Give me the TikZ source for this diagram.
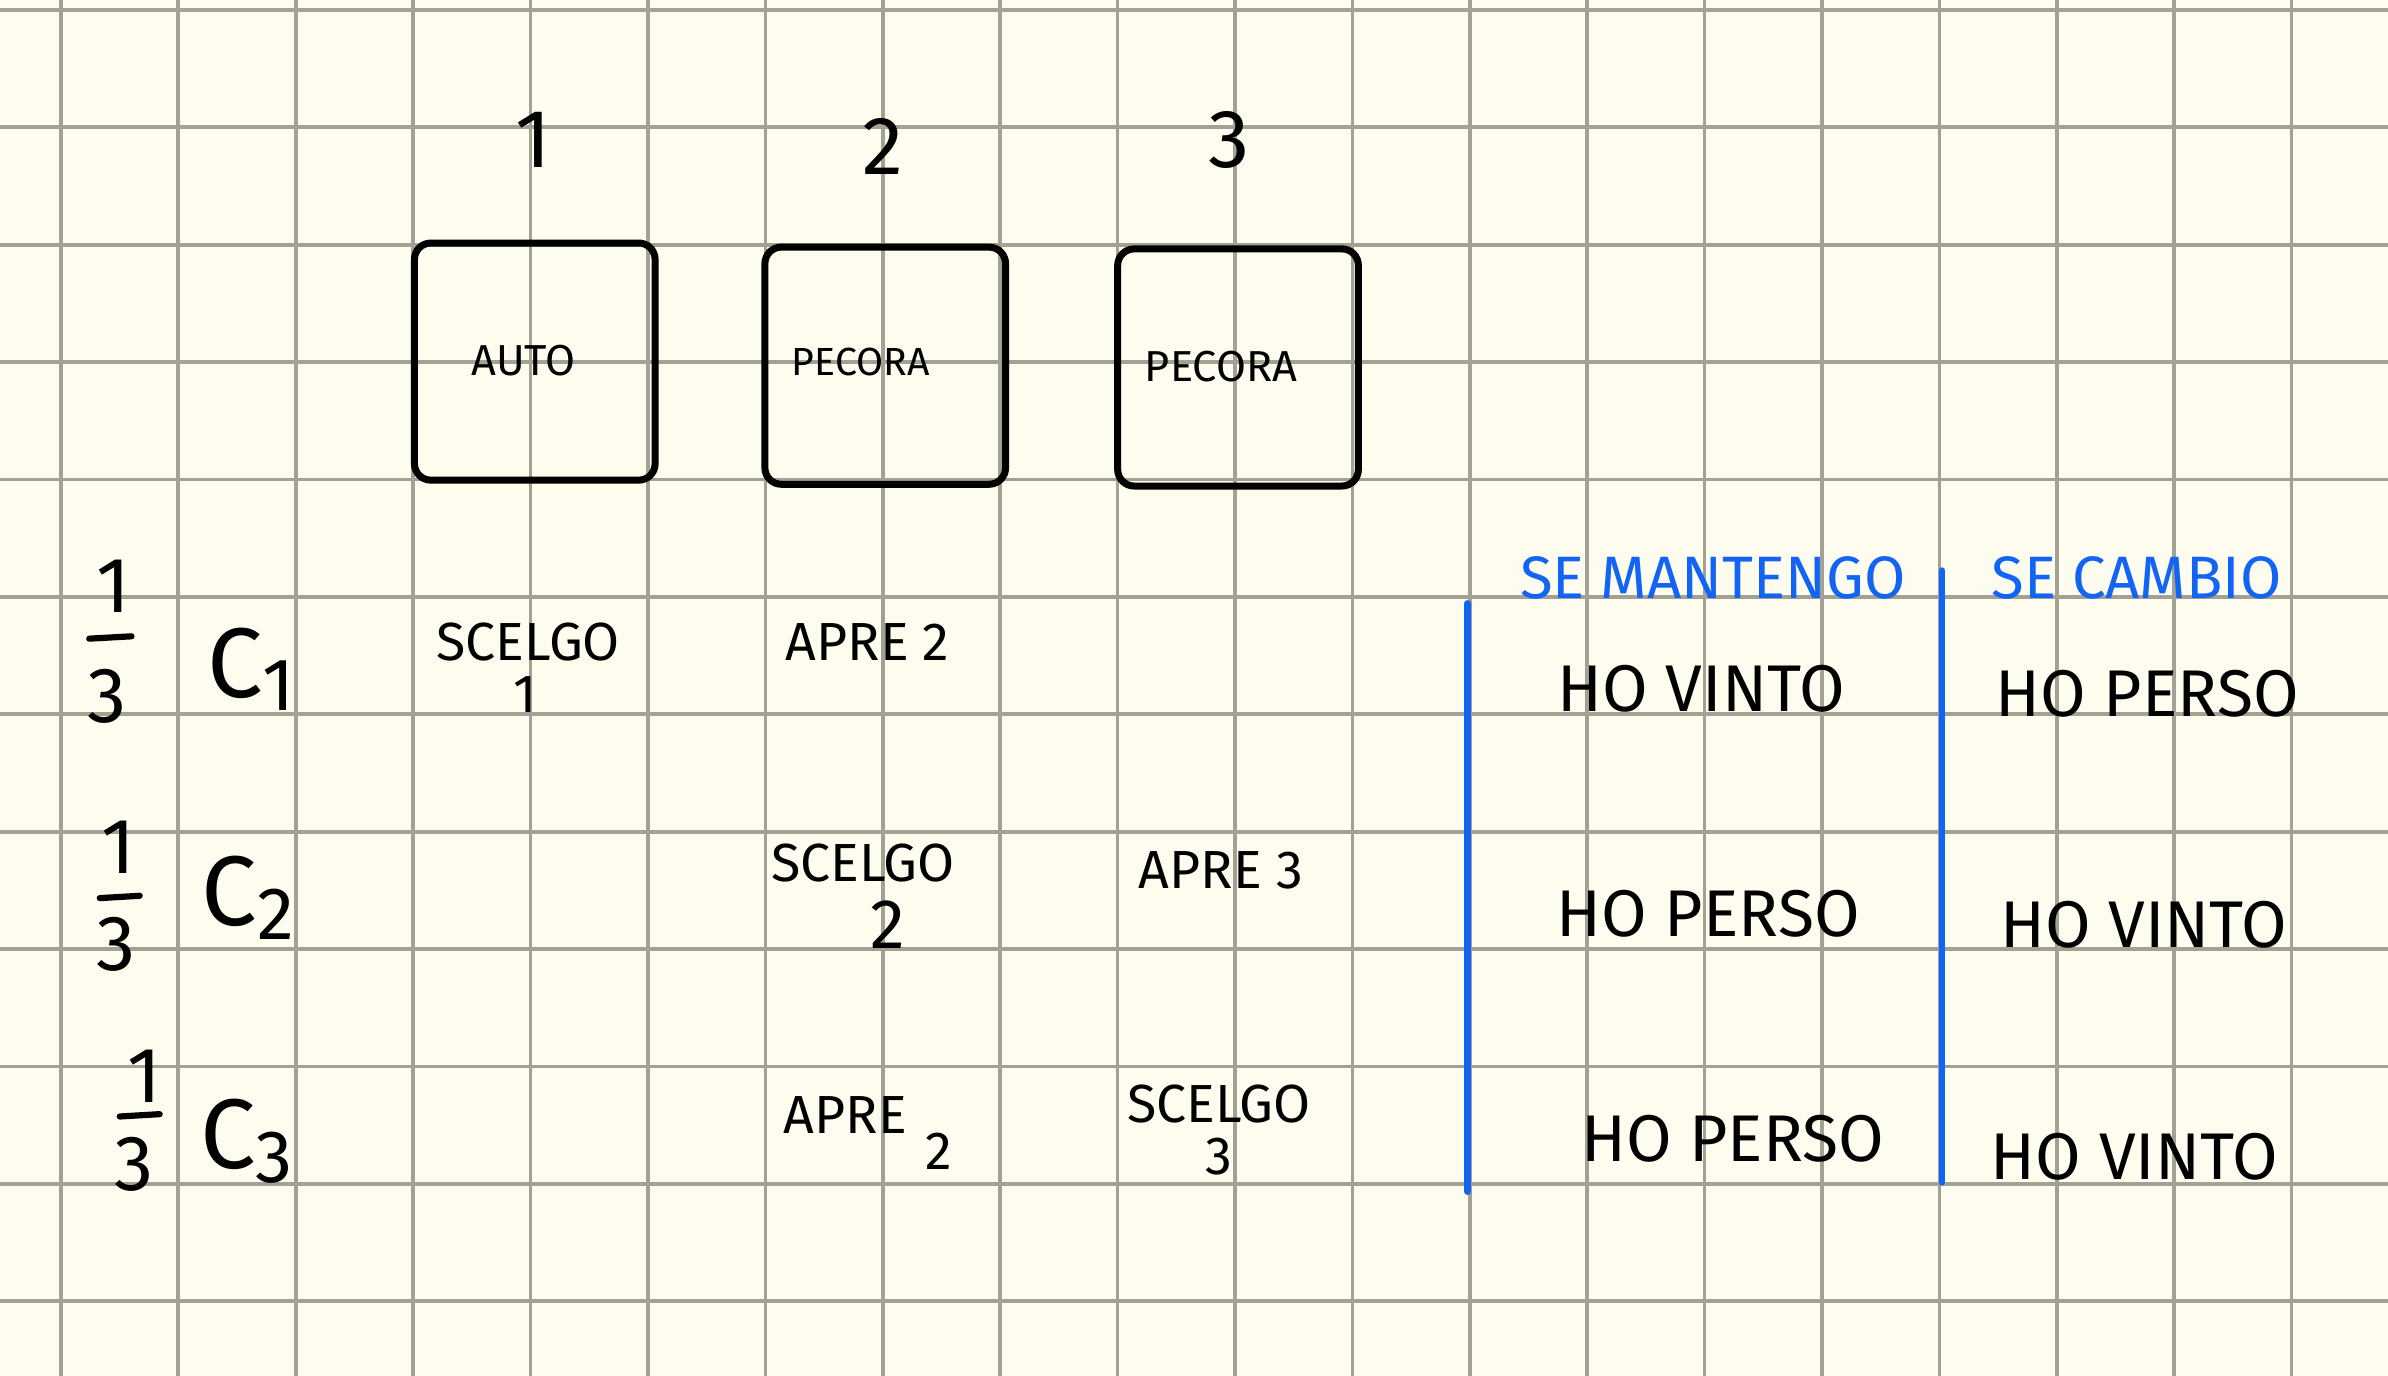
\documentclass[tikz,border=0pt]{standalone}
\usepackage{fontspec}
\setmainfont{Fira Sans}
\definecolor{carta}{RGB}{254,252,239}
\definecolor{righe}{RGB}{163,161,148}
\definecolor{penna}{RGB}{18,100,245}
\newcommand{\caso}[1]{{\fontsize{24}{26}\selectfont C}{\fontsize{18}{20}\selectfont\raisebox{-0.35ex}{#1}}}
\begin{document}
\begin{tikzpicture}[
    scatola/.style={draw=black, line width=1.7pt, rounded corners=4pt, minimum width=2.05cm, minimum height=2.02cm},
    num/.style={font=\fontsize{20}{22}\selectfont},
    frazione/.style={font=\fontsize{19}{21}\selectfont, inner sep=0pt},
    tratto/.style={draw=black, line width=1.5pt, line cap=round},
    porta/.style={font=\fontsize{10.5}{12}\selectfont},
    cella/.style={font=\fontsize{13}{13}\selectfont, inner sep=0pt},
    esito/.style={font=\fontsize{16}{18}\selectfont},
    titolo/.style={font=\fontsize{14.5}{16}\selectfont, text=penna},
    divisore/.style={draw=penna, line width=1.6pt, line cap=round}
  ]
    % 方眼紙
    \fill[carta] (0,0) rectangle (20.34,11.72);
    \useasboundingbox (0,0) rectangle (20.34,11.72);
    \begin{scope}
      \clip (0,0) rectangle (20.34,11.72);
      \draw[righe, line width=0.9pt, shift={(0.519,0.636)}] (-1,-1) grid (20,12);
    \end{scope}

    % 三つの扉
    \node[scatola] (porta1) at (4.555,8.64) {};
    \node[scatola] (porta2) at (7.54,8.605) {};
    \node[scatola] (porta3) at (10.545,8.59) {};
    \node[num] (n1) at (4.54,10.53) {1};
    \node[num] (n2) at (7.52,10.47) {2};
    \node[num] (n3) at (10.47,10.53) {3};
    \node[porta] (auto1) at (4.46,8.65) {AUTO};
    \node[porta, font=\fontsize{9.5}{11}\selectfont] (pecora2) at (7.33,8.64) {PECORA};
    \node[porta] (pecora3) at (10.40,8.60) {PECORA};

    % 確率 1/3
    \node[frazione] (f1n) at (0.97,6.73) {1};
    \node[frazione] (f1d) at (0.91,5.79) {3};
    \coordinate (f1a) at (0.76,6.28);
    \coordinate (f1b) at (1.12,6.30);
    \draw[tratto] (f1a) -- (f1b);
    \node[frazione] (f2n) at (1.01,4.50) {1};
    \node[frazione] (f2d) at (0.99,3.68) {3};
    \coordinate (f2a) at (0.85,4.07);
    \coordinate (f2b) at (1.19,4.09);
    \draw[tratto] (f2a) -- (f2b);
    \node[frazione] (f3n) at (1.23,2.55) {1};
    \node[frazione] (f3d) at (1.14,1.80) {3};
    \coordinate (f3a) at (1.02,2.21);
    \coordinate (f3b) at (1.36,2.23);
    \draw[tratto] (f3a) -- (f3b);

    % 場合
    \node (c1) at (2.14,6.02) {\caso{1}};
    \node (c2) at (2.11,4.07) {\caso{2}};
    \node (c3) at (2.10,2.0) {\caso{3}};

    % 選択と開く扉
    \node[cella] (sc1) at (4.50,6.25) {SCELGO};
    \node[cella] (sc1n) at (4.47,5.80) {1};
    \node[cella] (ap1) at (7.39,6.25) {APRE 2};
    \node[cella] (sc2) at (7.35,4.37) {SCELGO};
    \node[cella, font=\fontsize{17}{17}\selectfont] (sc2n) at (7.56,3.84) {2};
    \node[cella] (ap2) at (10.40,4.31) {APRE 3};
    \node[cella] (ap3) at (7.20,2.22) {APRE};
    \node[cella] (ap3n) at (8.0,1.91) {2};
    \node[cella] (sc3) at (10.38,2.32) {SCELGO};
    \node[cella] (sc3n) at (10.38,1.87) {3};

    % 青い表
    \coordinate (m1) at (12.50,6.58);
    \coordinate (m2) at (12.50,1.57);
    \coordinate (k1) at (16.54,6.86);
    \coordinate (k2) at (16.54,1.65);
    \draw[divisore] (m1) -- (m2);
    \draw[divisore] (k1) -- (k2);
    \node[titolo] (mantengo) at (14.59,6.80) {SE MANTENGO};
    \node[titolo] (cambio) at (18.20,6.80) {SE CAMBIO};

    % 結果
    \node[esito] (e11) at (14.49,5.85) {HO VINTO};
    \node[esito] (e12) at (18.29,5.81) {HO PERSO};
    \node[esito] (e21) at (14.55,3.94) {HO PERSO};
    \node[esito] (e22) at (18.26,3.84) {HO VINTO};
    \node[esito] (e31) at (14.76,2.02) {HO PERSO};
    \node[esito] (e32) at (18.18,1.87) {HO VINTO};
  \end{tikzpicture}
\end{document}
